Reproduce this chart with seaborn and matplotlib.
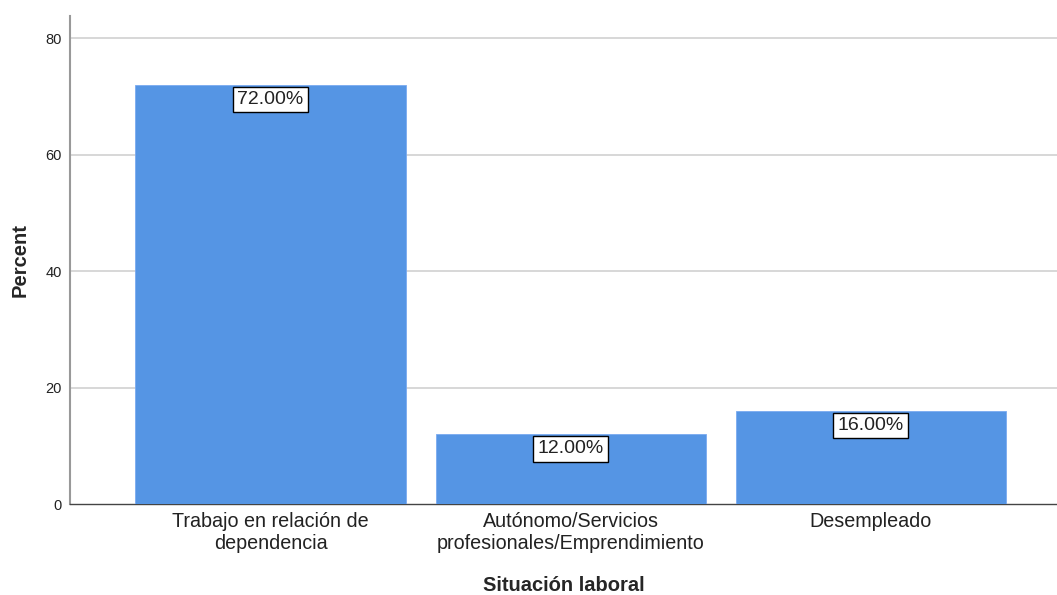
import matplotlib
matplotlib.use("Agg")
import matplotlib.pyplot as plt
import seaborn as sns
import pandas as pd

categories = ["Trabajo en relación de\ndependencia",
              "Autónomo/Servicios\nprofesionales/Emprendimiento",
              "Desempleado"]
percents = [72.0, 12.0, 16.0]
value_labels = ["72.00%", "12.00%", "16.00%"]
yticks = [0, 20, 40, 60, 80]

sns.set_style("white")
plt.rcParams['font.family'] = ['Liberation Sans', 'DejaVu Sans']

df = pd.DataFrame({"cat": categories, "pct": percents})

fig = plt.figure(figsize=(10.57, 5.95), dpi=100)
ax = fig.add_axes([70/1057, 91/595, 1 - 70/1057, (504-16)/595])

sns.barplot(data=df, x="cat", y="pct", color="#5595e4", width=0.9,
            edgecolor="#7aaaf0", linewidth=0.6, ax=ax, zorder=3, saturation=1)

ax.set_ylim(0, 83.8)
ax.set_xlim(-0.668, 2.62)
ax.set_yticks(yticks)
ax.set_yticklabels([str(t) for t in yticks], fontsize=10.5, color="#222222")
ax.tick_params(axis='y', length=0, pad=6)
ax.tick_params(axis='x', length=0, pad=6, labelsize=14.2, labelcolor="#222222")
for t in ax.get_xticklabels():
    t.set_linespacing(1.15)

for y in yticks[1:]:
    ax.axhline(y, color="#d4d4d4", linewidth=1.3, zorder=1)

for s in ["top", "right"]:
    ax.spines[s].set_visible(False)
ax.spines["left"].set_color("#999999")
ax.spines["left"].set_linewidth(1.5)
ax.spines["bottom"].set_color("#444444")
ax.spines["bottom"].set_linewidth(1.0)

for i, (v, lab) in enumerate(zip(percents, value_labels)):
    ax.annotate(lab, xy=(i, v), xytext=(0, -4.5), textcoords="offset points",
                ha="center", va="top", fontsize=14, color="#222222", zorder=5,
                bbox=dict(boxstyle="square,pad=0.22", fc="white", ec="black", lw=1))

ax.set_xlabel("Situación laboral", fontsize=14.5, fontweight="bold", labelpad=17)
ax.set_ylabel("Percent", fontsize=14.5, fontweight="bold", labelpad=11)

fig.savefig("out.png", dpi=100)
